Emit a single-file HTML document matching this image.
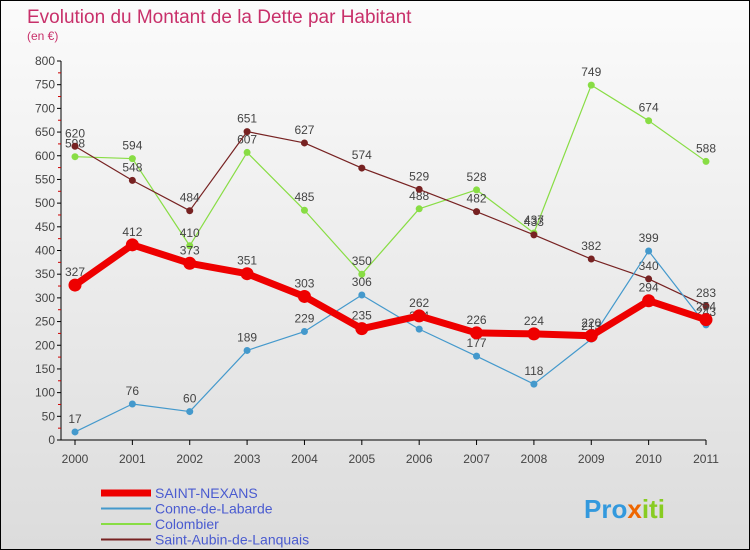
<!DOCTYPE html>
<html><head><meta charset="utf-8"><style>
body{margin:0}
#c{width:748px;height:548px;border:1px solid #000;background:linear-gradient(#fbfbfb,#dcdcdc);position:relative;font-family:"Liberation Sans",sans-serif;overflow:hidden}
</style></head><body>
<div id="c">
<svg id="s" width="748" height="548" xmlns="http://www.w3.org/2000/svg"></svg>
</div>
<script>
const years=["2000","2001","2002","2003","2004","2005","2006","2007","2008","2009","2010","2011"];
const nexans=[327,412,373,351,303,235,262,226,224,220,294,254];
const conne=[17,76,60,189,229,306,234,177,118,213,399,243];
const colombier=[598,594,410,607,485,350,488,528,437,749,674,588];
const aubin=[620,548,484,651,627,574,529,482,433,382,340,283];
const yTicks=[0,50,100,150,200,250,300,350,400,450,500,550,600,650,700,750,800];
const NS="http://www.w3.org/2000/svg";
const s=document.getElementById('s');
function X(i){return 74+i*(631/11);}
function Y(v){return 439-v*(379/800);}
function el(t,a,p){const e=document.createElementNS(NS,t);for(const k in a)e.setAttribute(k,a[k]);(p||s).appendChild(e);return e;}
let t=el('text',{x:26,y:22,'font-size':19,fill:'#c8306a'});t.textContent='Evolution du Montant de la Dette par Habitant';

t=el('text',{x:26,y:39,'font-size':12,fill:'#c8306a'});t.textContent='(en €)';

// axes
let a=el('line',{x1:60,y1:Y(800),x2:60,y2:Y(0),stroke:'#000'});

a=el('line',{x1:60,y1:Y(0),x2:X(11),y2:Y(0),stroke:'#000'});

yTicks.forEach(v=>{
 el('line',{x1:56,y1:Y(v),x2:60,y2:Y(v),stroke:'#000'});
 if(v<800)el('line',{x1:57,y1:Y(v+25),x2:60,y2:Y(v+25),stroke:'#c00'});
 const tt=el('text',{x:54,y:Y(v)+4,'font-size':12,fill:'#444','text-anchor':'end'});tt.textContent=v;
 
});
years.forEach((y,i)=>{
 el('line',{x1:X(i),y1:Y(0),x2:X(i),y2:Y(0)+5,stroke:'#000'});
 const tt=el('text',{x:X(i),y:Y(0)+23,'font-size':12,fill:'#444','text-anchor':'middle'});tt.textContent=y;
 
});
function series(d,color,w,r,name){
 const g=el('g',{});
 el('polyline',{points:d.map((v,i)=>X(i)+','+Y(v)).join(' '),fill:'none',stroke:color,'stroke-width':w,'stroke-linejoin':'round'},g);
 d.forEach((v,i)=>{const c=el('circle',{cx:X(i),cy:Y(v),r:r,fill:color},g);
  
  const tt=el('text',{x:X(i),y:Y(v)-9,'font-size':12,fill:'#444','text-anchor':'middle'},g);tt.textContent=v;});
}
series(colombier,'#88dd44',1.2,3.5,'series-colombier');
series(aubin,'#772222',1.2,3.5,'series-saint-aubin');
series(conne,'#4499cc',1.2,3.5,'series-conne');
series(nexans,'#ee0000',7,6.5,'series-saint-nexans');
const leg=[['SAINT-NEXANS','#ee0000',7],['Conne-de-Labarde','#4499cc',2],['Colombier','#88dd44',2],['Saint-Aubin-de-Lanquais','#772222',2]];
leg.forEach((l,i)=>{const y=492+i*15.5;
 const g=el('g',{});
 el('line',{x1:100,y1:y,x2:150,y2:y,stroke:l[1],'stroke-width':l[2]},g);
 const tt=el('text',{x:154,y:y+5,'font-size':14,fill:'#4a5bd0'},g);tt.textContent=l[0];});
const lg=el('text',{x:583,y:517,'font-size':26,'font-weight':'bold',fill:'#ee8800'});

lg.innerHTML='<tspan fill="#3399dd">Pro</tspan><tspan fill="#ee6600">x</tspan><tspan fill="#88cc22">iti</tspan>';
</script>
</body></html>
